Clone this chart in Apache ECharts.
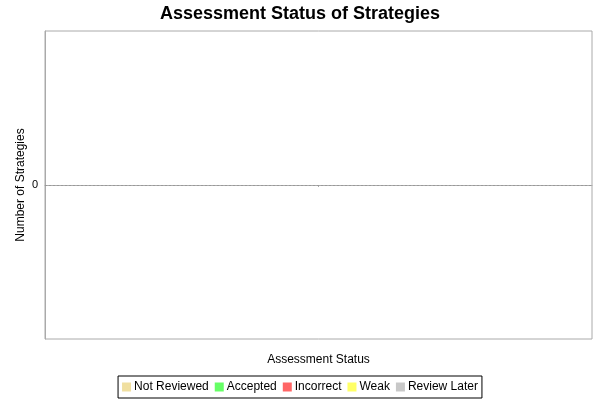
<!DOCTYPE html>
<html>
<head>
<meta charset="utf-8">
<script src="https://cdn.jsdelivr.net/npm/echarts@6/dist/echarts.min.js"></script>
<style>html,body{margin:0;padding:0;background:#fff}#c{width:600px;height:400px}</style>
</head>
<body>
<div id="c"></div>
<script>
var categories = [''];
var seriesNames = ['Not Reviewed', 'Accepted', 'Incorrect', 'Weak', 'Review Later'];
var seriesColors = ['#f0dfa0', '#66ff66', '#ff6666', '#ffff66', '#c8c8c8'];
var seriesValues = [[0], [0], [0], [0], [0]];
var yTickLabels = ['0'];
var yAxisTitle = 'Number of Strategies';

var font = 'Liberation Sans, Arial, sans-serif';
var chart = echarts.init(document.getElementById('c'));
var series = seriesNames.map(function (n, i) {
  var s = { name: n, type: 'bar', data: seriesValues[i], itemStyle: { color: seriesColors[i] } };
  if (i === 0) {
    s.markLine = {
      silent: true, symbol: 'none', label: { show: false },
      lineStyle: { color: '#999', type: [2, 2], width: 1 },
      data: [{ yAxis: 0 }]
    };
  }
  return s;
});
chart.setOption({
  animation: false,
  backgroundColor: '#fff',
  title: {
    text: 'Assessment Status of Strategies', left: 'center', top: 0,
    textStyle: { fontFamily: font, fontSize: 18, fontWeight: 'bold', color: '#000' }
  },
  legend: {
    data: seriesNames, bottom: 2, left: 'center',
    icon: 'rect', itemWidth: 9, itemHeight: 9, itemGap: 6,
    borderColor: '#000', borderWidth: 1, padding: [5, 4, 5, 4],
    textStyle: { fontFamily: font, fontSize: 12, color: '#000', padding: [0, 0, 0, -2] }
  },
  graphic: [{
    type: 'text', x: 21, y: 185, rotation: Math.PI / 2,
    style: { text: yAxisTitle, fontFamily: font, fontSize: 12, fill: '#000', align: 'center', verticalAlign: 'middle' }
  }],
  grid: { left: 45, top: 31, right: 8, bottom: 61, show: true, borderColor: '#aaa', borderWidth: 1, containLabel: false },
  xAxis: {
    type: 'category', data: categories,
    name: 'Assessment Status', nameLocation: 'middle', nameGap: 15,
    nameTextStyle: { fontFamily: font, fontSize: 12, color: '#000' },
    axisLine: { lineStyle: { color: '#aaa' } },
    axisTick: { show: true, length: 2, alignWithLabel: true, lineStyle: { color: '#aaa' } },
    axisLabel: { show: false }
  },
  yAxis: {
    type: 'value', min: -1, max: 1, interval: 1,
    axisLine: { show: true, lineStyle: { color: '#aaa' } },
    axisTick: { show: false },
    splitLine: { show: false },
    axisLabel: {
      fontFamily: font, fontSize: 11, color: '#000', margin: 7,
      formatter: function (v) { return yTickLabels.indexOf(String(v)) >= 0 ? String(v) : ''; }
    }
  },
  series: series
});
</script>
</body>
</html>
